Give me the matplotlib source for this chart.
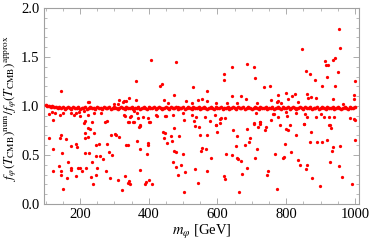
import matplotlib
matplotlib.use("Agg")
import matplotlib.pyplot as plt
from matplotlib.ticker import MultipleLocator

plt.rcParams['mathtext.fontset'] = 'stix'
plt.rcParams['font.family'] = ['Liberation Serif', 'DejaVu Serif']

# dense band of points close to the approximation
band_m = [100, 105, 110, 115, 120, 125, 130, 135, 140, 145, 150, 155, 160, 165, 170,
          175, 180, 185, 190, 195, 200, 205, 210, 215, 220, 225, 230, 235, 240, 245,
          250, 255, 260, 265, 270, 275, 280, 285, 290, 295, 300, 305, 310, 315, 320,
          325, 330, 335, 340, 345, 350, 355, 360, 365, 370, 375, 380, 385, 390, 395,
          400, 405, 410, 415, 420, 425, 430, 435, 440, 445, 450, 455, 460, 465, 470,
          475, 480, 485, 490, 495, 500, 505, 510, 515, 520, 525, 530, 535, 540, 545,
          550, 555, 560, 565, 570, 575, 580, 585, 590, 595, 600, 605, 610, 615, 620,
          625, 630, 635, 640, 645, 650, 655, 660, 665, 670, 675, 680, 685, 690, 695,
          700, 705, 710, 715, 720, 725, 730, 735, 740, 745, 750, 755, 760, 765, 770,
          775, 780, 785, 790, 795, 800, 805, 810, 815, 820, 825, 830, 835, 840, 845,
          850, 855, 860, 865, 870, 875, 880, 885, 890, 895, 900, 905, 910, 915, 920,
          925, 930, 935, 940, 945, 950, 955, 960, 965, 970, 975, 980, 985, 990, 995,
          1000]
band_r = [1.01, 1.0, 1.005, 0.995, 1.0, 0.99, 0.995, 0.985, 0.99, 0.98, 0.995, 0.975,
          0.985, 0.99, 0.98, 0.975, 0.99, 0.985, 0.98, 0.995, 0.975, 0.985, 0.98, 0.99,
          0.975, 0.985, 0.995, 0.98, 0.985, 0.97, 0.99, 0.98, 0.985, 0.975, 0.99, 0.985,
          0.98, 0.995, 0.975, 0.985, 0.99, 0.98, 0.97, 0.985, 0.99, 0.98, 0.975, 0.995,
          0.985, 0.98, 0.99, 0.975, 0.985, 0.98, 0.995, 0.97, 0.985, 0.99, 0.98, 0.975,
          0.99, 0.985, 0.98, 0.995, 0.975, 0.985, 0.99, 0.98, 0.97, 0.985, 0.99, 0.98,
          0.975, 0.995, 0.985, 0.98, 0.99, 0.975, 0.985, 0.98, 0.995, 0.97, 0.985, 0.99,
          0.98, 0.975, 0.99, 0.985, 0.98, 0.995, 0.975, 0.985, 0.99, 0.98, 0.97, 0.985,
          0.99, 0.98, 0.975, 0.995, 0.985, 0.98, 0.99, 0.975, 0.985, 0.98, 0.995, 0.97,
          0.985, 0.99, 0.98, 0.975, 0.99, 0.985, 0.98, 0.995, 0.975, 0.985, 0.99, 0.98,
          0.97, 0.985, 0.99, 0.98, 0.975, 0.995, 0.985, 0.98, 0.99, 0.975, 0.985, 0.98,
          0.995, 0.97, 0.985, 0.99, 0.98, 0.975, 0.99, 0.985, 0.98, 0.995, 0.975, 0.985,
          0.99, 0.98, 0.97, 0.985, 0.99, 0.98, 0.975, 0.995, 0.985, 0.98, 0.99, 0.975,
          0.985, 0.98, 0.995, 0.97, 0.985, 0.99, 0.98, 0.975, 0.99, 0.985, 0.98, 0.995,
          0.975, 0.985, 0.99, 0.98, 0.97, 0.985, 0.99, 0.98, 0.975, 0.995, 0.985, 0.98,
          0.99]

# scattered points above the band
upper_m = [146, 226, 310, 327, 224, 300, 313, 324, 342, 362, 364, 406, 433, 438, 445,
           474, 479, 334, 457, 509, 525, 543, 530, 555, 570, 570, 597, 620, 620, 641,
           641, 668, 683, 686, 705, 710, 715, 628, 657, 736, 753, 757, 773, 776, 776,
           785, 800, 805, 818, 827, 834, 845, 857, 860, 864, 868, 872, 884, 886, 905,
           913, 916, 921, 918, 937, 943, 943, 937, 951, 955, 957, 965, 996, 998, 1000]
upper_r = [1.15, 1.04, 1.02, 1.05, 1.045, 1.02, 1.06, 1.045, 1.085, 1.06, 1.26, 1.47,
           1.21, 1.23, 1.06, 1.11, 1.45, 1.05, 1.03, 1.05, 1.03, 1.06, 1.19, 1.07, 1.15,
           1.05, 1.03, 1.33, 1.27, 1.40, 1.10, 1.10, 1.07, 1.43, 1.40, 1.29, 1.03, 1.03,
           1.03, 1.19, 1.20, 1.06, 1.045, 1.11, 1.05, 1.03, 1.13, 1.07, 1.10, 1.12, 1.04,
           1.58, 1.36, 1.12, 1.08, 1.33, 1.09, 1.27, 1.08, 1.21, 1.46, 1.42, 1.42, 1.30,
           1.47, 1.49, 1.20, 1.07, 1.35, 1.79, 1.59, 1.02, 1.11, 1.07, 1.26]

# scattered points below the band
lower_m = [109, 119, 121, 151, 173, 182, 198, 213, 223, 215, 242, 262, 279, 298, 329,
           347, 357, 367, 369, 383, 398, 421, 448, 470, 484, 499, 504, 128, 143, 189,
           200, 331, 349, 423, 449, 526, 538, 341, 354, 374, 400,
           533, 565, 577, 595, 607, 622, 594, 609, 705, 723, 712, 761, 764, 776, 756,
           800, 801, 829, 851, 854, 862, 888, 901, 911, 926, 940, 987, 997, 1000,
           110, 122, 122, 139, 144, 143, 146, 149, 146, 151, 158, 161, 166, 173, 173,
           173, 187, 188, 192, 193, 200, 205, 213, 215, 215, 215, 218, 222, 224, 227,
           229, 232, 234, 234, 242, 239, 246, 247, 247, 249, 256, 259, 267, 274, 276,
           280, 285, 288, 291, 293, 303, 306, 311, 313, 323, 330, 335, 339, 339, 344,
           347, 342, 357, 365, 372, 375, 376, 376, 388, 393, 396, 398, 399, 401, 403,
           409, 443, 445, 448, 452, 465, 468, 472, 475, 475, 479, 479, 486, 489, 494,
           499, 502, 507,
           535, 546, 548, 535, 543, 551, 556, 566, 570, 571, 580, 595, 598, 607, 620,
           622, 626, 643, 644, 654, 656, 656, 661, 663, 669, 671, 679, 685, 685, 692,
           695, 705, 710, 715, 718, 723, 724, 739, 741, 744, 747, 767, 774, 783, 791,
           795, 798, 800, 805, 810, 813, 829, 835, 839, 852, 857, 860, 869, 872, 876,
           891, 899, 904, 919, 924, 928, 931, 928, 933, 937, 955, 958, 962, 992, 999]
lower_r = [0.915, 0.94, 0.857, 0.925, 0.93, 0.91, 0.94, 0.95, 0.91, 0.85, 0.93, 0.925,
           0.85, 0.98, 0.91, 0.89, 0.95, 0.925, 0.875, 0.89, 0.875, 0.91, 0.90, 0.91,
           0.99, 0.925, 0.857, 0.93, 0.91, 0.925, 0.90, 0.90, 0.90, 0.90, 0.90, 0.91,
           0.89, 0.84, 0.84, 0.80, 0.84,
           0.85, 0.89, 0.85, 0.81, 0.87, 0.88, 0.91, 0.875, 0.83, 0.84, 0.93, 0.92, 0.915,
           0.885, 0.857, 0.94, 0.895, 0.93, 0.82, 0.92, 0.89, 0.885, 0.92, 0.89, 0.89,
           0.885, 0.875, 0.865, 0.857,
           0.67, 0.56, 0.34, 0.39, 0.71, 0.67, 0.34, 0.52, 0.30, 0.15, 0.66, 0.27, 0.43,
           0.59, 0.37, 0.35, 0.61, 0.29, 0.58, 0.37, 0.37, 0.34, 0.83, 0.73, 0.67, 0.52,
           0.37, 0.78, 0.68, 0.52, 0.77, 0.28, 0.84, 0.43, 0.73, 0.21, 0.60, 0.49, 0.30,
           0.37, 0.61, 0.49, 0.46, 0.84, 0.34, 0.61, 0.53, 0.27, 0.70, 0.50, 0.72, 0.71,
           0.25, 0.68, 0.14, 0.29, 0.60, 0.60, 0.22, 0.24, 0.20, 0.84, 0.84, 0.64, 0.79,
           0.81, 0.56, 0.35, 0.21, 0.23, 0.51, 0.62, 0.60, 0.25, 0.84, 0.20, 0.74, 0.67,
           0.73, 0.62, 0.69, 0.64, 0.43, 0.54, 0.78, 0.53, 0.38, 0.30, 0.69, 0.40, 0.51,
           0.12, 0.33,
           0.80, 0.79, 0.71, 0.36, 0.22, 0.54, 0.57, 0.56, 0.71, 0.34, 0.47, 0.81, 0.74,
           0.83, 0.29, 0.26, 0.51, 0.50, 0.76, 0.59, 0.69, 0.47, 0.46, 0.12, 0.44, 0.31,
           0.60, 0.77, 0.37, 0.63, 0.67, 0.82, 0.47, 0.56, 0.79, 0.84, 0.82, 0.76, 0.79,
           0.30, 0.34, 0.51, 0.15, 0.81, 0.47, 0.48, 0.61, 0.77, 0.76, 0.81, 0.53, 0.71,
           0.45, 0.40, 0.82, 0.36, 0.40, 0.63, 0.74, 0.27, 0.63, 0.18, 0.63, 0.65, 0.81,
           0.81, 0.78, 0.43, 0.54, 0.58, 0.39, 0.59, 0.28, 0.20, 0.65]

fig = plt.figure(figsize=(3.69, 2.45), dpi=100)
ax = fig.add_axes([0.118, 0.167, 0.855, 0.80])

red = '#ff0000'
ax.scatter(band_m, band_r, s=7, color=red, linewidths=0, zorder=3)
for xs, ys in [(upper_m, upper_r), (lower_m, lower_r)]:
    ax.scatter(xs, ys, s=5.5, color=red, linewidths=0, zorder=3)

ax.set_xlim(94, 1012)
ax.set_ylim(0, 2.0)
ax.xaxis.set_major_locator(MultipleLocator(200))
ax.xaxis.set_minor_locator(MultipleLocator(50))
ax.yaxis.set_major_locator(MultipleLocator(0.5))
ax.yaxis.set_minor_locator(MultipleLocator(0.1))
ax.yaxis.set_major_formatter(matplotlib.ticker.FormatStrFormatter('%.1f'))

frame = '#a0a0a0'
for sp in ax.spines.values():
    sp.set_color(frame)
    sp.set_linewidth(0.8)
ax.tick_params(which='both', direction='in', top=True, right=True, colors=frame,
               labelcolor='black', labelsize=10.5)
ax.tick_params(which='major', length=4, width=0.6, pad=3)
ax.tick_params(which='minor', length=2, width=0.5)

ax.set_xlabel(r'$m_\varphi$ [GeV]', fontsize=10.5, labelpad=1)
ax.set_ylabel(r'$f_\varphi(T_{\rm CMB})^{\rm num}/f_\varphi(T_{\rm CMB})^{\rm approx}$',
              fontsize=9.5)
ax.yaxis.set_label_coords(-0.078, 0.49)

fig.savefig('out.png', dpi=100)
